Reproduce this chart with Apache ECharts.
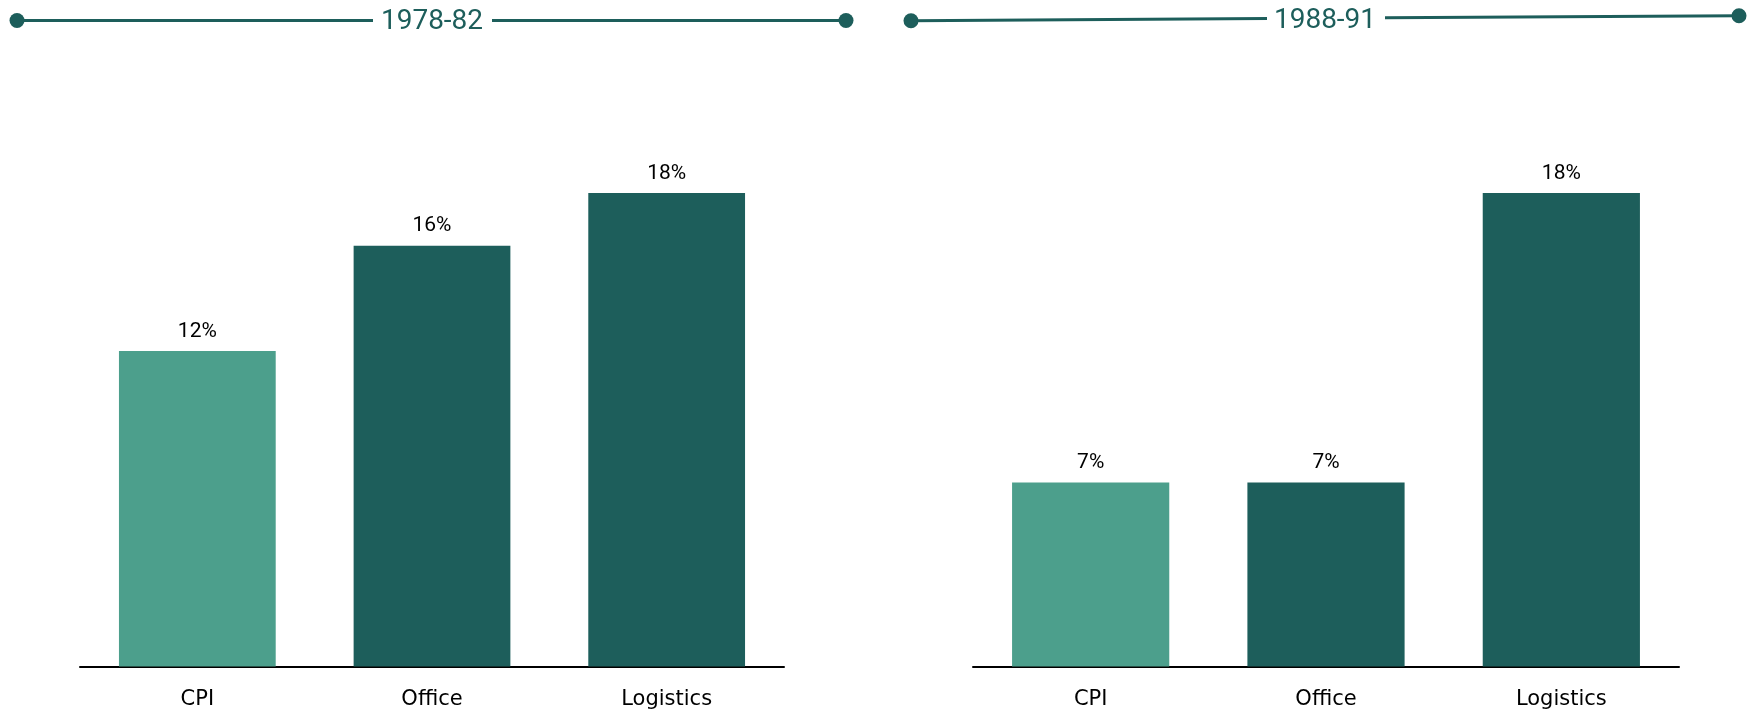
<!DOCTYPE html>
<html>
<head>
<meta charset="utf-8">
<script src="https://cdn.jsdelivr.net/npm/echarts@6/dist/echarts.min.js"></script>
<style>
  html, body { margin: 0; padding: 0; background: #ffffff; }
  #chart { width: 1757px; height: 711px; }
</style>
</head>
<body>
<div id="chart"></div>
<script>
// Categories and values (% total return) for each period panel
const categories = ['CPI', 'Office', 'Logistics'];
const periodTitles = ['1978-82', '1988-91'];
const values7882 = [12, 16, 18];
const values8891 = [7, 7, 18];

const lightTeal = '#4c9f8c';
const darkTeal = '#1d5e5b';
const barColors = [lightTeal, darkTeal, darkTeal];

const chart = echarts.init(document.getElementById('chart'));

function barData(vals) {
  return vals.map((v, i) => ({ value: v, itemStyle: { color: barColors[i] } }));
}

function xAxisFor(gridIndex) {
  return {
    type: 'category',
    gridIndex: gridIndex,
    data: categories,
    axisLine: { show: true, lineStyle: { color: '#000000', width: 2 } },
    axisTick: { show: false },
    axisLabel: {
      color: '#000000',
      fontFamily: 'DejaVu Sans',
      fontSize: 21,
      margin: 23
    }
  };
}

function yAxisFor(gridIndex) {
  return {
    type: 'value',
    gridIndex: gridIndex,
    min: 0,
    max: 20,
    show: false,
    splitLine: { show: false }
  };
}

function barSeries(idx, vals) {
  return {
    type: 'bar',
    xAxisIndex: idx,
    yAxisIndex: idx,
    data: barData(vals),
    barWidth: '66.8%',
    label: {
      show: true,
      position: 'top',
      distance: 9,
      formatter: '{c}%',
      color: '#000000',
      fontFamily: 'Roboto',
      fontSize: 21
    }
  };
}

// Header rule: dot — line — title — line — dot
const headerColor = '#1d5e5b';
function header(x1, y1, x2, y2, gapL, gapR, textX, textY, title) {
  const t1 = (gapL - x1) / (x2 - x1);
  const t2 = (gapR - x1) / (x2 - x1);
  const yL = y1 + (y2 - y1) * t1;
  const yR = y1 + (y2 - y1) * t2;
  return [
    { type: 'line', shape: { x1: x1, y1: y1, x2: gapL, y2: yL },
      style: { stroke: headerColor, lineWidth: 3 } },
    { type: 'line', shape: { x1: gapR, y1: yR, x2: x2, y2: y2 },
      style: { stroke: headerColor, lineWidth: 3 } },
    { type: 'circle', shape: { cx: x1, cy: y1, r: 7.5 }, style: { fill: headerColor } },
    { type: 'circle', shape: { cx: x2, cy: y2, r: 7.5 }, style: { fill: headerColor } },
    { type: 'text', x: textX, y: textY,
      style: { text: title, fill: headerColor, font: '28px Roboto',
               align: 'center', verticalAlign: 'middle' } }
  ];
}

const option = {
  backgroundColor: '#ffffff',
  animation: false,
  grid: [
    { left: 80, right: 973, top: 140.5, bottom: 44.5 },
    { left: 973, right: 78, top: 140.5, bottom: 44.5 }
  ],
  xAxis: [xAxisFor(0), xAxisFor(1)],
  yAxis: [yAxisFor(0), yAxisFor(1)],
  series: [barSeries(0, values7882), barSeries(1, values8891)],
  graphic: [
    ...header(17, 20.5, 846, 20.5, 373, 492, 432, 22, periodTitles[0]),
    ...header(911, 20.7, 1739, 15.7, 1267, 1385, 1325, 20.5, periodTitles[1])
  ]
};

chart.setOption(option);
</script>
</body>
</html>
